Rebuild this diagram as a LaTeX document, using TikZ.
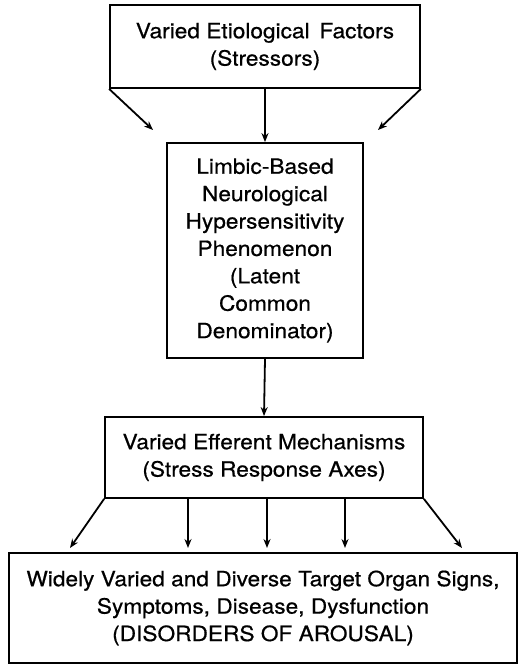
\documentclass[tikz,border=0pt]{standalone}
\usepackage{fontspec}
\setmainfont{TeX Gyre Heros}[FakeStretch=1.08,FakeBold=0.6]
\usetikzlibrary{arrows.meta}
\begin{document}
\begin{tikzpicture}[x=1pt,y=1pt,
  boxnode/.style={draw, line width=1.8pt, align=center, inner sep=0pt,
    font=\fontsize{21}{27.4}\selectfont},
  arr/.style={line width=1.8pt, -{Stealth[length=9pt,width=7pt]}}]
\useasboundingbox (0,0) rectangle (518,-664);
\node[boxnode, minimum width=310, minimum height=83] (top) at (265,-46.5)
  {Varied Etiological\, Factors\\(Stressors)};
\node[boxnode, minimum width=196, minimum height=215] (mid) at (265,-250.5)
  {Limbic-Based\\Neurological\\Hypersensitivity\\Phenomenon\\(Latent\\Common\\Denominator)};
\node[boxnode, minimum width=318, minimum height=81] (eff) at (264,-457.5)
  {Varied Efferent Mechanisms\\(Stress Response Axes)};
\node[boxnode, minimum width=508, minimum height=110] (org) at (263,-608)
  {Widely Varied and Diverse Target Organ Signs,\\Symptoms, Disease, Dysfunction\\(DISORDERS OF AROUSAL)};
% top arrows
\coordinate (tl) at (153,-130);
\coordinate (tr) at (378,-130);
\draw[arr] (top.south west) -- (tl);
\draw[arr] (top.south east) -- (tr);
\draw[arr] (top.south) -- (mid.north);
\draw[arr] (mid.south) -- (eff.north);
% bottom arrows
\coordinate (bl) at (70,-548);
\coordinate (b1) at (188,-548);
\coordinate (b2) at (267,-548);
\coordinate (b3) at (345,-548);
\coordinate (br) at (462,-548);
\draw[arr] (eff.south west) -- (bl);
\draw[arr] (eff.south west -| b1) -- (b1);
\draw[arr] (eff.south west -| b2) -- (b2);
\draw[arr] (eff.south west -| b3) -- (b3);
\draw[arr] (eff.south east) -- (br);
\end{tikzpicture}
\end{document}
